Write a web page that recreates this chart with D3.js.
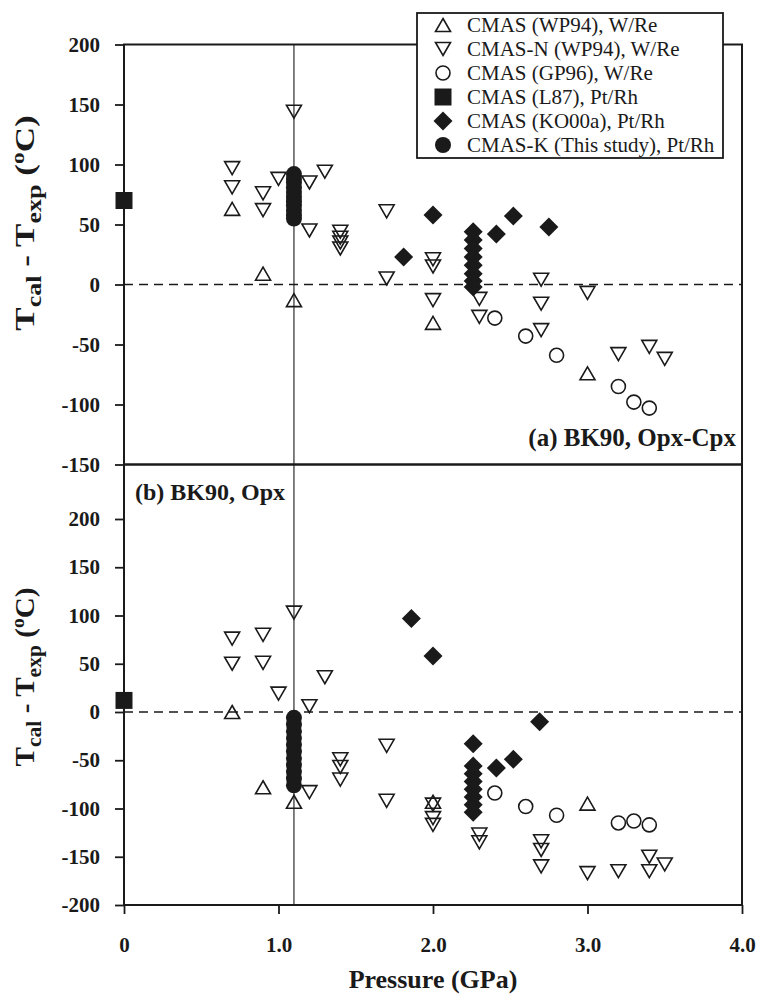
<!DOCTYPE html>
<html><head><meta charset="utf-8">
<script src="https://cdn.jsdelivr.net/npm/d3@7"></script>
<style>body{margin:0;background:#fff}svg{display:block}</style>
</head><body>
<svg id="c" width="757" height="994"></svg>
<script>
// ---------- data ----------
const pressureTicks = [0, 1, 2, 3, 4];
const pressureTickLabels = ["0", "1.0", "2.0", "3.0", "4.0"];
const tempTicksA = [-150, -100, -50, 0, 50, 100, 150, 200];
const tempTicksB = [-200, -150, -100, -50, 0, 50, 100, 150, 200];
const legendLabels = ["CMAS (WP94), W/Re", "CMAS-N (WP94), W/Re", "CMAS (GP96), W/Re",
  "CMAS (L87), Pt/Rh", "CMAS (KO00a), Pt/Rh", "CMAS-K (This study), Pt/Rh"];
const refPressure = 1.1;

// panel (a) BK90, Opx-Cpx : [pressure GPa, Tcal - Texp]
const wp94A = [[0.7, 63], [0.9, 9], [1.1, -13], [2.0, -32], [3.0, -74]];
const wp94nA = [[0.7, 97], [0.7, 81], [0.9, 76], [0.9, 62], [1.0, 88], [1.1, 144], [1.2, 85], [1.3, 94],
  [1.2, 45], [1.4, 44], [1.4, 39], [1.4, 35], [1.4, 30], [1.7, 61], [1.7, 5], [2.0, 21], [2.0, 15],
  [2.0, -13], [2.3, -12], [2.3, -27], [2.7, 4], [2.7, -16], [2.7, -38], [3.0, -7], [3.2, -58],
  [3.4, -52], [3.5, -62]];
const gp96A = [[2.4, -28], [2.6, -43], [2.8, -59], [3.2, -85], [3.3, -98], [3.4, -103]];
const l87A = [[0, 70]];
const ko00aA = [[1.81, 23], [2.0, 58], [2.26, 44], [2.26, 37], [2.26, 30], [2.26, 23], [2.26, 16],
  [2.26, 9], [2.26, 3], [2.26, -2], [2.41, 42], [2.52, 57], [2.75, 48]];
const thisStudyA = [[1.1, 92], [1.1, 88], [1.1, 85], [1.1, 81], [1.1, 77], [1.1, 73], [1.1, 69],
  [1.1, 66], [1.1, 62], [1.1, 58], [1.1, 55]];

// panel (b) BK90, Opx
const wp94B = [[0.7, 0], [0.9, -78], [1.1, -93], [2.0, -93], [3.0, -95]];
const wp94nB = [[0.7, 76], [0.7, 50], [0.9, 80], [0.9, 51], [1.0, 19], [1.1, 103], [1.2, 6], [1.3, 36],
  [1.2, -83], [1.4, -49], [1.4, -57], [1.4, -70], [1.7, -35], [1.7, -92], [2.0, -96], [2.0, -110],
  [2.0, -117], [2.3, -127], [2.3, -135], [2.7, -134], [2.7, -143], [2.7, -160], [3.0, -167],
  [3.2, -165], [3.4, -150], [3.4, -165], [3.5, -158]];
const gp96B = [[2.4, -84], [2.6, -98], [2.8, -107], [3.2, -115], [3.3, -113], [3.4, -117]];
const l87B = [[0, 12]];
const ko00aB = [[1.86, 97], [2.0, 58], [2.26, -33], [2.26, -56], [2.26, -64], [2.26, -72], [2.26, -80],
  [2.26, -88], [2.26, -96], [2.26, -104], [2.41, -58], [2.52, -49], [2.69, -10]];
const thisStudyB = [[1.1, -6], [1.1, -13], [1.1, -20], [1.1, -27], [1.1, -34], [1.1, -41], [1.1, -48],
  [1.1, -55], [1.1, -62], [1.1, -69], [1.1, -76]];

// ---------- drawing ----------
const svg = d3.select("#c");
const FONT = "'Liberation Serif','Times New Roman',serif";
const left = 124, right = 742;
const x = d3.scaleLinear().domain([0, 4]).range([left, right]);
const yA = d3.scaleLinear().domain([-150, 200]).range([464.5, 44.5]);
const yB = d3.scaleLinear().domain([-200, 200]).range([905, 519]);
const topA = 44.5, bottomA = 464.5, topB = 464.5, bottomB = 905;

const shapes = {
  up: "M0,-6.5L7.5,6.5L-7.5,6.5Z",
  down: "M0,6.5L7.5,-6.5L-7.5,-6.5Z",
  circle: d3.arc()({innerRadius: 0, outerRadius: 7, startAngle: 0, endAngle: 2 * Math.PI}),
  square: "M-8.5,-8.5H8.5V8.5H-8.5Z",
  diamond: "M0,-9.5L9.5,0L0,9.5L-9.5,0Z",
  dot: d3.arc()({innerRadius: 0, outerRadius: 8, startAngle: 0, endAngle: 2 * Math.PI})
};
const styles = {
  up: {fill: "none", stroke: "#1a1a1a"},
  down: {fill: "none", stroke: "#1a1a1a"},
  circle: {fill: "none", stroke: "#1a1a1a"},
  square: {fill: "#1a1a1a", stroke: "none"},
  diamond: {fill: "#1a1a1a", stroke: "none"},
  dot: {fill: "#1a1a1a", stroke: "none"}
};
const seriesKinds = ["up", "down", "circle", "square", "diamond", "dot"];

function drawPanel(y, ticks, series, label, labelPos, labelSize) {
  const g = svg.append("g");
  g.append("line").attr("x1", left).attr("x2", right).attr("y1", y(0)).attr("y2", y(0))
    .attr("stroke", "#1a1a1a").attr("stroke-width", 1.4).attr("stroke-dasharray", "9,6");
  const ax = g.append("g").attr("transform", `translate(${left},0)`)
    .call(d3.axisLeft(y).tickValues(ticks).tickSize(9).tickPadding(15).tickFormat(d3.format("d")));
  ax.select(".domain").remove();
  ax.selectAll("line").attr("stroke", "#1a1a1a").attr("stroke-width", 1.8);
  ax.selectAll("text").attr("font-family", FONT).attr("font-weight", "bold")
    .attr("font-size", 21).attr("fill", "#1a1a1a").text(d => d < 0 ? "-" + Math.abs(d) : d);
  series.forEach((data, i) => {
    const k = seriesKinds[i];
    g.append("g").selectAll("path").data(data).join("path")
      .attr("d", shapes[k])
      .attr("transform", d => `translate(${x(d[0])},${y(d[1])})`)
      .attr("fill", styles[k].fill).attr("stroke", styles[k].stroke).attr("stroke-width", 1.6);
  });
  g.append("text").attr("x", labelPos[0]).attr("y", labelPos[1]).attr("text-anchor", labelPos[2])
    .attr("font-family", FONT).attr("font-weight", "bold").attr("font-size", labelSize)
    .attr("fill", "#1a1a1a").text(label);
  return g;
}

svg.append("line").attr("x1", x(refPressure)).attr("x2", x(refPressure))
  .attr("y1", topA).attr("y2", bottomB).attr("stroke", "#1a1a1a").attr("stroke-width", 1.1);

drawPanel(yA, tempTicksA, [wp94A, wp94nA, gp96A, l87A, ko00aA, thisStudyA],
  "(a) BK90, Opx-Cpx", [736, 446, "end"], 25);
drawPanel(yB, tempTicksB, [wp94B, wp94nB, gp96B, l87B, ko00aB, thisStudyB],
  "(b) BK90, Opx", [135, 500, "start"], 24);

svg.append("rect").attr("x", left).attr("y", topA).attr("width", right - left).attr("height", bottomA - topA)
  .attr("fill", "none").attr("stroke", "#1a1a1a").attr("stroke-width", 2);
svg.append("rect").attr("x", left).attr("y", topB).attr("width", right - left).attr("height", bottomB - topB)
  .attr("fill", "none").attr("stroke", "#1a1a1a").attr("stroke-width", 2);

const xa = svg.append("g").attr("transform", `translate(0,${bottomB})`)
  .call(d3.axisBottom(x).tickValues(pressureTicks).tickSize(9).tickPadding(23)
    .tickFormat((d, i) => pressureTickLabels[i]));
xa.select(".domain").remove();
xa.selectAll("line").attr("stroke", "#1a1a1a").attr("stroke-width", 1.8);
xa.selectAll("text").attr("font-family", FONT).attr("font-weight", "bold").attr("font-size", 21).attr("fill", "#1a1a1a");

svg.append("text").attr("x", (left + right) / 2).attr("y", 988).attr("text-anchor", "middle")
  .attr("font-family", FONT).attr("font-weight", "bold").attr("font-size", 26).attr("fill", "#1a1a1a")
  .text("Pressure (GPa)");

function yTitle(cx, cy, sx) {
  const t = svg.append("text").attr("transform", `translate(${cx},${cy}) rotate(-90) scale(${sx},1)`)
    .attr("text-anchor", "middle").attr("font-family", FONT).attr("font-weight", "bold")
    .attr("font-size", 27).attr("fill", "#1a1a1a");
  t.append("tspan").text("T");
  t.append("tspan").attr("font-size", 20).attr("dy", 7).text("cal");
  t.append("tspan").attr("dy", -7).text(" - T");
  t.append("tspan").attr("font-size", 20).attr("dy", 7).text("exp");
  t.append("tspan").attr("dy", -7).text(" (");
  t.append("tspan").attr("font-size", 18).attr("dy", -10).text("o");
  t.append("tspan").attr("dy", 10).text("C)");
}
yTitle(34, 223, 1.3);
yTitle(34, 677, 1.08);

const lg = svg.append("g");
lg.append("rect").attr("x", 417).attr("y", 13).attr("width", 306).attr("height", 145)
  .attr("fill", "#fff").attr("stroke", "#1a1a1a").attr("stroke-width", 1.8);
const ly = d3.scalePoint().domain(legendLabels).range([25, 145]);
legendLabels.forEach((lab, i) => {
  const k = seriesKinds[i];
  lg.append("path").attr("d", shapes[k]).attr("transform", `translate(443,${ly(lab)})`)
    .attr("fill", styles[k].fill).attr("stroke", styles[k].stroke).attr("stroke-width", 1.6);
  lg.append("text").attr("x", 467).attr("y", ly(lab) + 7).attr("font-family", FONT)
    .attr("font-size", 21).attr("fill", "#1a1a1a").text(lab);
});
</script>
</body></html>
